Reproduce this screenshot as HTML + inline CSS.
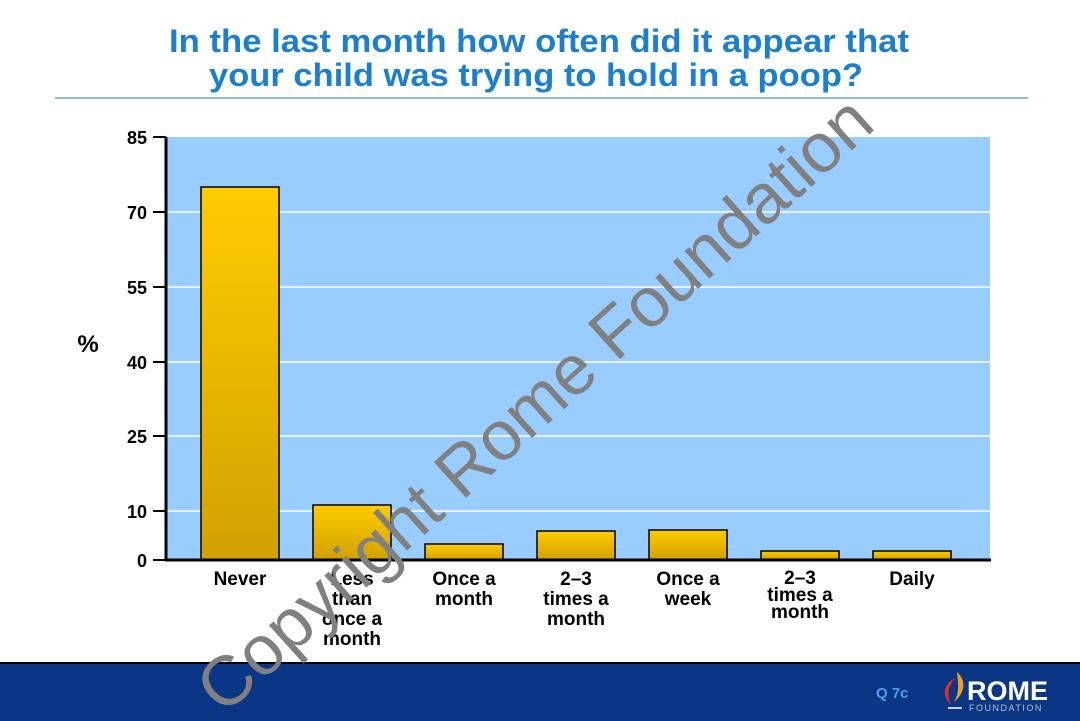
<!DOCTYPE html>
<html><head><meta charset="utf-8"><style>
body{margin:0;width:1080px;height:721px;overflow:hidden;background:#fff;font-family:"Liberation Sans",Arial,sans-serif}
</style></head><body>
<svg width="1080" height="721" viewBox="0 0 1080 721" xmlns="http://www.w3.org/2000/svg" font-family="Liberation Sans, Arial, sans-serif" style="display:block">
<defs>
<linearGradient id="g" x1="0" y1="0" x2="0" y2="1"><stop offset="0" stop-color="#ffcc00"/><stop offset="1" stop-color="#d2a000"/></linearGradient>
</defs>
<text x="539" y="52" text-anchor="middle" font-size="32" font-weight="bold" fill="#1a7fd0" textLength="740" lengthAdjust="spacingAndGlyphs">In the last month how often did it appear that</text>
<text x="536" y="86" text-anchor="middle" font-size="32" font-weight="bold" fill="#1a7fd0" textLength="654" lengthAdjust="spacingAndGlyphs">your child was trying to hold in a poop?</text>
<line x1="55" y1="98" x2="1028" y2="98" stroke="#2a72b8" stroke-width="1"/>
<rect x="167" y="137" width="823" height="423" fill="#99ccff"/>
<g stroke="#fff" stroke-width="1.5">
<line x1="167" y1="212" x2="990" y2="212"/><line x1="167" y1="287" x2="990" y2="287"/>
<line x1="167" y1="362" x2="990" y2="362"/><line x1="167" y1="436" x2="990" y2="436"/>
<line x1="167" y1="511" x2="990" y2="511"/>
</g>
<g stroke="#000" stroke-width="1.5" fill="url(#g)">
<rect x="201" y="187" width="78" height="373"/>
<rect x="313" y="505" width="78" height="55"/>
<rect x="425" y="544" width="78" height="16"/>
<rect x="537" y="531" width="78" height="29"/>
<rect x="649" y="530" width="78" height="30"/>
<rect x="761" y="551" width="78" height="9"/>
<rect x="873" y="551" width="78" height="9"/>
</g>
<g stroke="#000" stroke-width="3">
<line x1="166" y1="137" x2="166" y2="561"/><line x1="165" y1="560" x2="991" y2="560"/>
</g>
<g stroke="#000" stroke-width="2">
<line x1="153" y1="137" x2="166" y2="137"/><line x1="153" y1="212" x2="166" y2="212"/><line x1="153" y1="287" x2="166" y2="287"/><line x1="153" y1="362" x2="166" y2="362"/><line x1="153" y1="436" x2="166" y2="436"/><line x1="153" y1="511" x2="166" y2="511"/><line x1="153" y1="560" x2="166" y2="560"/>
</g>
<g font-size="18" font-weight="bold" text-anchor="end" fill="#000">
<text x="147" y="144">85</text><text x="147" y="219">70</text><text x="147" y="294">55</text><text x="147" y="369">40</text><text x="147" y="443">25</text><text x="147" y="518">10</text><text x="147" y="567">0</text>
</g>
<text x="88" y="352" text-anchor="middle" font-size="24" font-weight="bold">%</text>
<g font-size="19" font-weight="bold" text-anchor="middle" fill="#000">
<text x="240" y="585">Never</text>
<text x="352" y="585">Less</text><text x="352" y="605">than</text><text x="352" y="625">once a</text><text x="352" y="645">month</text>
<text x="464" y="585">Once a</text><text x="464" y="605">month</text>
<text x="576" y="585">2–3</text><text x="576" y="605">times a</text><text x="576" y="625">month</text>
<text x="688" y="585">Once a</text><text x="688" y="605">week</text>
<text x="800" y="584">2–3</text><text x="800" y="601">times a</text><text x="800" y="618">month</text>
<text x="912" y="585">Daily</text>
</g>
<rect x="0" y="663" width="1080" height="58" fill="#0b3585"/>
<line x1="0" y1="663" x2="1080" y2="663" stroke="#000" stroke-width="2"/>
<text transform="translate(538,408) rotate(-42)" text-anchor="middle" dominant-baseline="middle" font-size="70" fill="#808080" textLength="880" lengthAdjust="spacingAndGlyphs">Copyright Rome Foundation</text>
<text x="876" y="698" font-size="15" font-weight="bold" fill="#4aa0f0">Q 7c</text>
<path d="M955 678 C942 685 942 698 952 705 C946 697 948 687 955 678Z" fill="#e03020"/>
<path d="M957 672 C966 680 966 692 954 702 C960 692 958 684 957 672Z" fill="#f0a020"/>
<rect x="948" y="707" width="14" height="2" fill="#ccc"/>
<text x="967" y="700" font-size="27" font-weight="bold" fill="#fff">ROME</text>
<text x="969" y="711" font-size="9" fill="#b8c0d0" letter-spacing="1.5">FOUNDATION</text>
</svg>
</body></html>
